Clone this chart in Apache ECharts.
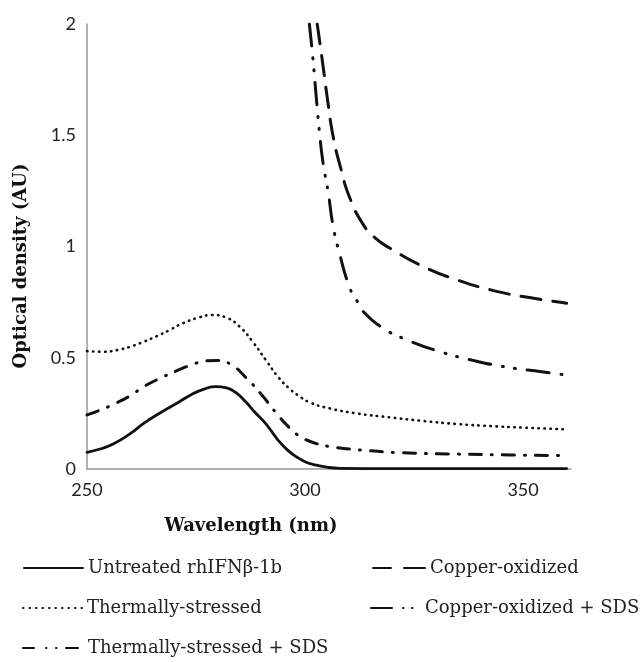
<!DOCTYPE html>
<html>
<head>
<meta charset="utf-8">
<title>Optical density</title>
<script src="https://cdn.jsdelivr.net/npm/echarts@6/dist/echarts.min.js"></script>
<style>
  html, body { margin: 0; padding: 0; background: #fff; }
  #chart { width: 643px; height: 662px; }
</style>
</head>
<body>
<div id="chart"></div>
<script>
// 各曲线的波长（nm）与吸光度（AU）
var untreatedX = [250, 253, 256, 260, 263, 267, 271, 274, 277, 279.5, 282, 284, 286.5, 288.5, 290.5, 292.5, 294, 296, 298, 300, 302, 305, 308, 320, 340, 360];
var untreatedY = [0.075, 0.09, 0.112, 0.16, 0.205, 0.255, 0.3, 0.335, 0.36, 0.37, 0.365, 0.345, 0.3, 0.255, 0.215, 0.165, 0.125, 0.085, 0.055, 0.033, 0.02, 0.008, 0.003, 0.002, 0.002, 0.002];

var thermalX = [250, 254, 257, 260, 263, 266, 269, 272, 275.5, 278.7, 282, 285, 288, 291, 294, 296.5, 298.5, 301, 305.5, 311.8, 319.5, 327, 335, 342.6, 350, 360];
var thermalY = [0.53, 0.527, 0.535, 0.55, 0.572, 0.597, 0.625, 0.655, 0.68, 0.692, 0.68, 0.64, 0.572, 0.49, 0.41, 0.36, 0.33, 0.3, 0.273, 0.25, 0.232, 0.216, 0.202, 0.193, 0.186, 0.178];

var thermalSdsX = [250, 253, 256, 260, 263, 267, 271, 274, 277, 280, 283, 286.5, 290, 294, 297, 299, 302, 306, 313, 322, 335, 347, 360];
var thermalSdsY = [0.243, 0.265, 0.29, 0.33, 0.37, 0.41, 0.445, 0.468, 0.485, 0.488, 0.47, 0.41, 0.335, 0.237, 0.175, 0.145, 0.118, 0.1, 0.085, 0.073, 0.067, 0.063, 0.06];

var copperX = [302.8, 304.1, 305.3, 306.4, 308, 310.3, 313.4, 316, 319.5, 327.2, 335, 342.6, 350.3, 360];
var copperY = [2.0, 1.816, 1.64, 1.5, 1.366, 1.217, 1.097, 1.04, 0.992, 0.909, 0.849, 0.805, 0.774, 0.745];

var copperSdsX = [301, 301.8, 302.6, 303.3, 304.1, 305.3, 306.4, 308, 310.3, 311.8, 313.4, 318, 323.4, 331, 338.8, 346.5, 354.2, 360];
var copperSdsY = [2.0, 1.846, 1.666, 1.516, 1.381, 1.246, 1.097, 0.962, 0.812, 0.76, 0.707, 0.632, 0.58, 0.527, 0.487, 0.457, 0.437, 0.422];

var seriesNames = ["Untreated rhIFNβ-1b", "Thermally-stressed", "Thermally-stressed + SDS", "Copper-oxidized", "Copper-oxidized + SDS"];
var yTicks = [0, 0.5, 1, 1.5, 2];

function pairs(xs, ys) {
  var out = [];
  for (var i = 0; i < xs.length; i++) {
    out.push([xs[i], ys[i]]);
  }
  return out;
}

var serif = "'DejaVu Serif', 'Liberation Serif', serif";
var sans = "Lato, 'Open Sans', sans-serif";

function makeLine(name, data, dash, width) {
  return {
    name: name,
    type: "line",
    data: data,
    showSymbol: false,
    symbol: "none",
    smooth: 0.5,
    lineStyle: { color: "#111", width: width, type: dash, cap: "round" },
    itemStyle: { color: "#111" },
    z: 3
  };
}

// 每个图例单独放置，图例里的线型单独设置
function legendItem(name, left, top, w, dash, pad) {
  return {
    data: [name],
    left: left,
    top: top,
    padding: 0,
    itemWidth: w,
    itemHeight: 14,
    selectedMode: false,
    itemStyle: { opacity: 0 },
    lineStyle: { type: dash, cap: "round" },
    textStyle: { fontFamily: serif, fontSize: 18, color: "#222", padding: [0, 0, 0, pad || 0] }
  };
}

var chart = echarts.init(document.getElementById("chart"));

var option = {
  animation: false,
  backgroundColor: "#fff",
  grid: { left: 87, right: 72, top: 24, bottom: 193 },
  xAxis: {
    type: "value",
    min: 250,
    max: 361,
    interval: 50,
    axisLine: { show: true, lineStyle: { color: "#999", width: 1.5 } },
    axisTick: { show: false },
    splitLine: { show: false },
    axisLabel: { showMaxLabel: false, margin: 12, fontFamily: sans, fontSize: 18, color: "#222" }
  },
  yAxis: {
    type: "value",
    min: yTicks[0],
    max: yTicks[yTicks.length - 1],
    interval: 0.5,
    axisLine: { show: true, lineStyle: { color: "#999", width: 1.5 } },
    axisTick: { show: false },
    splitLine: { show: false },
    axisLabel: { margin: 11, fontFamily: sans, fontSize: 18, color: "#222" }
  },
  legend: [
    legendItem(seriesNames[0], 23, 559, 59, "solid"),
    legendItem(seriesNames[1], 22, 599, 59, [0.5, 6]),
    legendItem(seriesNames[2], 22, 639, 55, [11, 12, 0.5, 9.5, 0.5, 9.5, 12, 30], 5),
    legendItem(seriesNames[3], 372, 559, 52, [18, 13, 22, 20]),
    legendItem(seriesNames[4], 370, 599, 42, [21, 11, 0.5, 8.5, 0.5, 30], 7)
  ],
  graphic: [
    {
      type: "text",
      x: 21,
      y: 266,
      rotation: Math.PI / 2,
      style: {
        text: "Optical density (AU)",
        font: "bold 18px " + serif,
        fill: "#111",
        textAlign: "center",
        textVerticalAlign: "middle"
      }
    },
    {
      type: "text",
      x: 251,
      y: 526,
      style: {
        text: "Wavelength (nm)",
        font: "bold 18px " + serif,
        fill: "#111",
        textAlign: "center",
        textVerticalAlign: "middle"
      }
    }
  ],
  series: [
    makeLine(seriesNames[0], pairs(untreatedX, untreatedY), "solid", 2.8),
    makeLine(seriesNames[1], pairs(thermalX, thermalY), [0.5, 5.5], 2.6),
    makeLine(seriesNames[2], pairs(thermalSdsX, thermalSdsY), [12, 10, 1, 10], 3),
    makeLine(seriesNames[3], pairs(copperX, copperY), [20, 12], 3),
    makeLine(seriesNames[4], pairs(copperSdsX, copperSdsY), [22, 12, 1, 11, 1, 12], 3)
  ]
};

chart.setOption(option);
</script>
</body>
</html>
